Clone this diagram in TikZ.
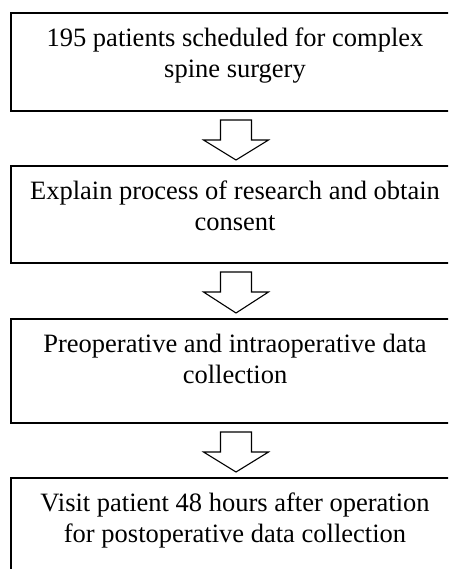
\documentclass[tikz,border=0pt]{standalone}
\usepackage{fontspec}
\setmainfont{Liberation Serif}
\usetikzlibrary{positioning, calc}

% hollow block arrow from the bottom of one box to the top of the next
\newcommand{\flowarrow}[2]{%
  \draw[hollow] ($(#1.south)+(-14.5,9)$) -- ++(0,20) -- ++(-17,0)
    -- ($(#2.north)+(1,-6)$) -- ($(#1.south)+(33.5,29)$) -- ++(-17,0)
    -- ++(0,-20) -- cycle;}

\begin{document}
\begin{tikzpicture}[
    x=1pt, y=-1pt,
    every node/.style={font=\fontsize{26.5}{31}\selectfont},
    box/.style={draw, line width=1.5pt, minimum width=448pt, inner sep=0pt,
                outer sep=0pt},
    txt/.style={align=center, inner sep=0pt},
    hollow/.style={draw, fill=white, line width=1.1pt, line join=miter}
]
    \useasboundingbox (0,0) rectangle (448,569);
    \fill[white] (0,0) rectangle (448,569);
    \clip (0,0) rectangle (448,569);

    % Four boxes
    \node[box, minimum height=98pt, anchor=north] (b1) at (235,13) {};
    \node[box, minimum height=97pt, below=55pt of b1] (b2) {};
    \node[box, minimum height=104pt, below=56pt of b2] (b3) {};
    \node[box, minimum height=98pt, below=55pt of b3] (b4) {};

    % Texts
    \node[txt, below=15pt of b1.north] (t1) {195 patients scheduled for complex\\ spine surgery};
    \node[txt, below=15pt of b2.north] (t2) {Explain process of research and obtain\\ consent};
    \node[txt, below=15pt of b3.north] (t3) {Preoperative and intraoperative data\\ collection};
    \node[txt, below=15pt of b4.north] (t4) {Visit patient 48 hours after operation\\ for postoperative data collection};

    \flowarrow{b1}{b2}
    \flowarrow{b2}{b3}
    \flowarrow{b3}{b4}
\end{tikzpicture}
\end{document}
